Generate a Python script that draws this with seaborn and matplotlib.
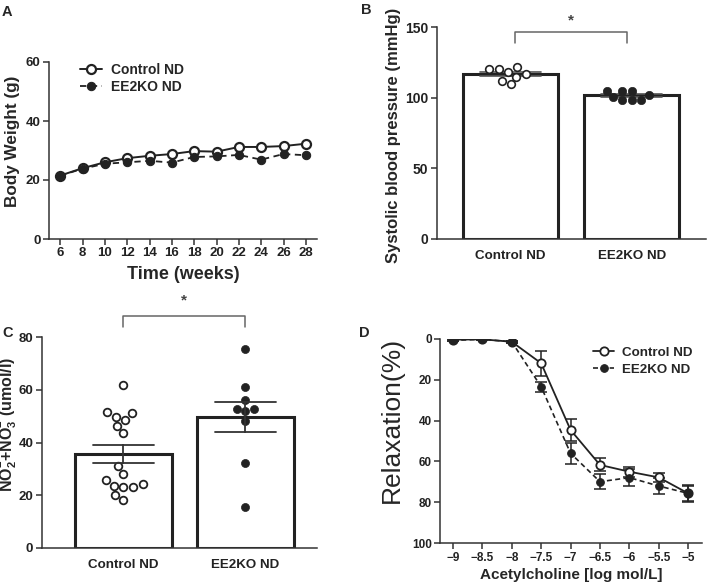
import numpy as np
import pandas as pd
import matplotlib
matplotlib.use("Agg")
import matplotlib.pyplot as plt
import seaborn as sns

# ---------------- data ----------------
weeks = [6, 8, 10, 12, 14, 16, 18, 20, 22, 24, 26, 28]
bw_control = [21.5, 24.0, 26.0, 27.4, 28.2, 28.8, 29.8, 29.6, 31.2, 31.2, 31.5, 32.3]
bw_ee2ko = [21.5, 23.8, 25.5, 26.0, 26.5, 25.9, 27.8, 28.0, 28.5, 26.9, 28.8, 28.4]

groups = ["Control ND", "EE2KO ND"]
sbp_control = [120.3, 116.9, 109.6, 120.3, 115.0, 118.6, 112.0, 121.7]
sbp_ee2ko = [105.1, 98.5, 102.3, 105.1, 98.5, 100.4, 105.1, 98.5]

nox_control = [61.9, 51.7, 48.6, 49.9, 51.1, 46.3, 43.5, 31.1, 28.1, 25.8,
               23.3, 23.7, 23.0, 24.2, 20.1, 18.2]
nox_ee2ko = [75.5, 61.2, 56.2, 52.9, 52.0, 52.9, 48.2, 32.2, 15.7]

ach_log = [-9, -8.5, -8, -7.5, -7, -6.5, -6, -5.5, -5]
rel_control = [0.5, 0.3, 1.5, 12.0, 44.6, 61.7, 65.0, 67.8, 75.6]
rel_control_sem = [0.5, 0.4, 0.5, 6.2, 5.5, 3.2, 2.5, 2.2, 4.3]
rel_ee2ko = [0.8, 0.3, 1.5, 23.5, 56.0, 69.9, 67.9, 72.0, 75.6]
rel_ee2ko_sem = [0.5, 0.4, 0.5, 2.5, 5.0, 3.6, 4.0, 3.7, 3.5]

# ---------------- style ----------------
sns.set_theme(style="ticks")
plt.rcParams["font.family"] = ["Liberation Sans", "DejaVu Sans"]
plt.rcParams["font.weight"] = "bold"
plt.rcParams["mathtext.fontset"] = "custom"
plt.rcParams["mathtext.rm"] = "Liberation Sans:bold"
plt.rcParams["mathtext.bf"] = "Liberation Sans:bold"
plt.rcParams["mathtext.it"] = "Liberation Sans:bold"
plt.rcParams["mathtext.default"] = "rm"

INK = "#222222"
SP = "#333333"

fig = plt.figure(figsize=(7.09, 5.88), dpi=100)
W, H = 709.0, 588.0


def add_ax(l, r, t, b):
    return fig.add_axes([l / W, 1 - b / H, (r - l) / W, (b - t) / H])


def style_ax(ax, fs):
    sns.despine(ax=ax)
    for s in ["left", "bottom"]:
        ax.spines[s].set_linewidth(1.1)
        ax.spines[s].set_color(SP)
    ax.tick_params(axis="both", direction="out", length=4, width=1.1,
                   color=SP, labelsize=fs, pad=2, labelcolor=INK)
    for lab in ax.get_xticklabels() + ax.get_yticklabels():
        lab.set_fontweight("bold")
    ax.set_facecolor("white")


# ---------------- Panel A ----------------
axA = add_ax(49, 317, 62, 239)
dfA = pd.DataFrame({"week": weeks * 2,
                    "bw": bw_control + bw_ee2ko,
                    "group": ["Control ND"] * len(weeks) + ["EE2KO ND"] * len(weeks)})
sns.lineplot(data=dfA[dfA.group == "Control ND"], x="week", y="bw", ax=axA,
             color=INK, linewidth=1.4, marker="o", markersize=6.5,
             markerfacecolor="white", markeredgecolor=INK, markeredgewidth=1.6,
             label="Control ND", zorder=3)
sns.lineplot(data=dfA[dfA.group == "EE2KO ND"], x="week", y="bw", ax=axA,
             color=INK, linestyle=(0, (3.5, 2.5)), linewidth=1.3, marker="o",
             markersize=6, markerfacecolor=INK, markeredgecolor=INK,
             label="EE2KO ND", zorder=4)
axA.set_xlim(5, 29)
axA.set_ylim(0, 60)
axA.set_xticks(weeks)
axA.set_yticks([0, 20, 40, 60])
axA.set_xlabel("Time (weeks)", fontsize=13, fontweight="bold", labelpad=5)
axA.set_ylabel("Body Weight (g)", fontsize=12.3, fontweight="bold")
axA.yaxis.set_label_coords(-0.108, 0.554)
style_ax(axA, 9.5)
axA.legend(loc="upper left", bbox_to_anchor=(0.07, 1.065),
           frameon=False, handlelength=1.6, handletextpad=0.6,
           labelspacing=0.2, prop={"weight": "bold", "size": 10})
fig.text(2 / W, 1 - 12 / H, "A", fontsize=10.5, fontweight="bold", va="center")

# ---------------- Panel B ----------------
axB = add_ax(436.7, 705.7, 27.3, 239)
dfB = pd.DataFrame({"group": ["Control ND"] * len(sbp_control) + ["EE2KO ND"] * len(sbp_ee2ko),
                    "sbp": sbp_control + sbp_ee2ko})
sns.barplot(data=dfB, x="group", y="sbp", order=groups, ax=axB, color="white",
            edgecolor=INK, linewidth=2.2, width=0.785, errorbar="se",
            capsize=0.5, err_kws={"linewidth": 1.2, "color": "#555555"})
sns.swarmplot(data=dfB[dfB.group == "Control ND"], x="group", y="sbp", order=groups,
              ax=axB, color="white", edgecolor=INK, linewidth=1.2, size=5.5, zorder=5)
sns.swarmplot(data=dfB[dfB.group == "EE2KO ND"], x="group", y="sbp", order=groups,
              ax=axB, color=INK, edgecolor=INK, linewidth=0.5, size=6, zorder=5)
axB.set_xlim(-0.61, 1.61)
axB.set_ylim(0, 150)
axB.set_yticks([0, 50, 100, 150])
axB.set_xlabel("")
axB.set_ylabel("Systolic blood pressure (mmHg)", fontsize=12, fontweight="bold")
axB.yaxis.set_label_coords(-0.134, 0.49)
style_ax(axB, 10)
axB.tick_params(axis="x", length=0, pad=8, labelsize=9.6)
axB.plot([0.04, 0.04, 0.96, 0.96], [138.7, 146.5, 146.5, 138.7], color="#666666",
         linewidth=1.1, clip_on=False)
axB.text(0.5, 155, "*", ha="center", va="center", fontsize=11, color="#444444",
         fontweight="bold", clip_on=False)
fig.text(361 / W, 1 - 10 / H, "B", fontsize=10.5, fontweight="bold", va="center")

# ---------------- Panel C ----------------
axC = add_ax(41.7, 316.7, 337.3, 548)
dfC = pd.DataFrame({"group": ["Control ND"] * len(nox_control) + ["EE2KO ND"] * len(nox_ee2ko),
                    "nox": nox_control + nox_ee2ko})
sns.barplot(data=dfC, x="group", y="nox", order=groups, ax=axC, color="white",
            edgecolor=INK, linewidth=2.2, width=0.79, errorbar="se",
            capsize=0.5, err_kws={"linewidth": 1.3, "color": "#333333", "zorder": 6})
sns.swarmplot(data=dfC[dfC.group == "Control ND"], x="group", y="nox", order=groups,
              ax=axC, color="white", edgecolor=INK, linewidth=1.3, size=5.5, zorder=5)
sns.swarmplot(data=dfC[dfC.group == "EE2KO ND"], x="group", y="nox", order=groups,
              ax=axC, color=INK, edgecolor=INK, linewidth=0.5, size=5.8, zorder=5)
axC.set_xlim(-0.67, 1.585)
axC.set_ylim(0, 80)
axC.set_yticks([0, 20, 40, 60, 80])
axC.set_xlabel("")
axC.set_ylabel(r"NO$_{2}^{\mathbf{-}}$+NO$_{3}^{\mathbf{-}}$ (umol/l)", fontsize=11.5,
               fontweight="bold")
axC.yaxis.set_label_coords(-0.082, 0.588)
style_ax(axC, 9.5)
axC.tick_params(axis="x", length=0, pad=8, labelsize=9.6)
axC.plot([0, 0, 1, 1], [83.8, 88.2, 88.2, 83.8], color="#666666",
         linewidth=1.1, clip_on=False)
axC.text(0.5, 94, "*", ha="center", va="center", fontsize=11, color="#444444",
         fontweight="bold", clip_on=False)
fig.text(2 / W, 1 - 333 / H, "C", fontsize=10.5, fontweight="bold", va="center")

# ---------------- Panel D ----------------
axD = add_ax(440, 702.3, 338.7, 543.3)
dfD = pd.DataFrame({"ach": ach_log * 2,
                    "rel": rel_control + rel_ee2ko,
                    "sem": rel_control_sem + rel_ee2ko_sem,
                    "group": ["Control ND"] * len(ach_log) + ["EE2KO ND"] * len(ach_log)})
dC = dfD[dfD.group == "Control ND"]
dE = dfD[dfD.group == "EE2KO ND"]
axD.errorbar(dE["ach"], dE["rel"], yerr=dE["sem"], fmt="none", ecolor=INK,
             elinewidth=1.1, capsize=4, capthick=1.1, zorder=2)
axD.errorbar(dC["ach"], dC["rel"], yerr=dC["sem"], fmt="none", ecolor=INK,
             elinewidth=1.1, capsize=4, capthick=1.1, zorder=2)
sns.lineplot(data=dC, x="ach", y="rel", ax=axD, color=INK, linewidth=1.3,
             marker="o", markersize=6, markerfacecolor="white",
             markeredgecolor=INK, markeredgewidth=1.3, label="Control ND", zorder=3)
sns.lineplot(data=dE, x="ach", y="rel", ax=axD, color=INK, linestyle=(0, (3, 2)),
             linewidth=1.2, marker="o", markersize=5.5, markerfacecolor=INK,
             markeredgecolor=INK, label="EE2KO ND", zorder=4)
axD.set_xlim(-9.22, -4.76)
axD.set_ylim(100, 0)
axD.set_xticks(ach_log)
axD.set_xticklabels(["−9", "−8.5", "−8", "−7.5", "−7", "−6.5", "−6", "−5.5", "−5"])
axD.set_yticks([0, 20, 40, 60, 80, 100])
axD.set_xlabel("Acetylcholine [log mol/L]", fontsize=11, fontweight="bold", labelpad=3)
axD.set_ylabel("Relaxation(%)", fontsize=19, fontweight="normal")
axD.yaxis.set_label_coords(-0.137, 0.605)
style_ax(axD, 8.5)
axD.legend(loc="upper right", bbox_to_anchor=(1.01, 1.02),
           frameon=False, handlelength=1.6, handletextpad=0.6, labelspacing=0.35,
           prop={"weight": "bold", "size": 9.6})
fig.text(359 / W, 1 - 333 / H, "D", fontsize=10.5, fontweight="bold", va="center")

fig.savefig("out.png", dpi=100, facecolor="white")
